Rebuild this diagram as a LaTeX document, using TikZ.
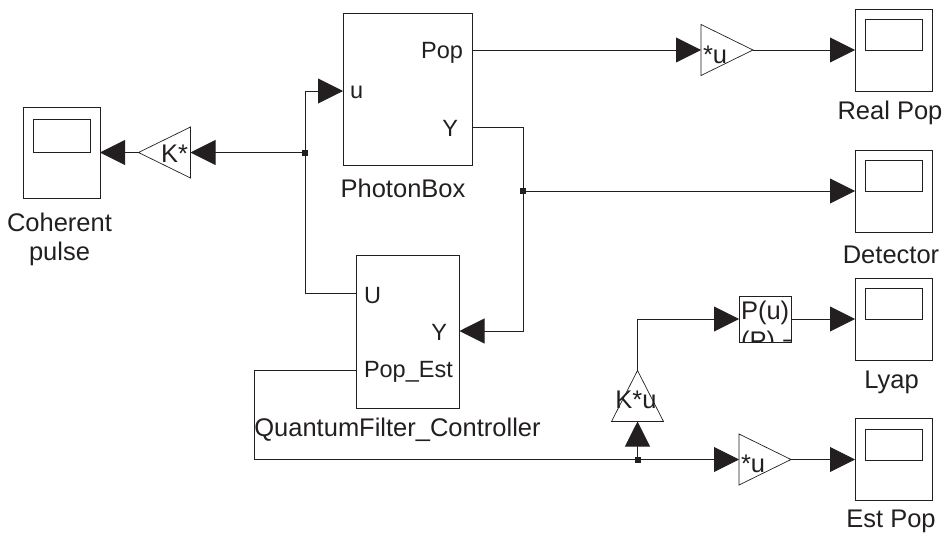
\documentclass[tikz,border=0pt]{standalone}
\usepackage{fontspec}
\setmainfont{Liberation Sans}
\usetikzlibrary{arrows.meta}
\definecolor{ink}{HTML}{231F20}
\tikzset{
  wire/.style={draw=ink,line width=0.9pt},
  sig/.style={wire,-{Triangle[length=25pt,width=25pt,color=ink]}},
  blockbox/.style={draw=ink,line width=0.9pt,inner sep=0pt,outer sep=0pt,rectangle},
  scopebox/.style={blockbox,minimum width=77pt,minimum height=82pt},
  screenbox/.style={blockbox,minimum width=57pt,minimum height=31pt},
  gainarea/.style={inner sep=0pt,outer sep=0pt,rectangle,minimum width=52pt,minimum height=51pt},
  gainshape/.style={draw=ink,line width=0.7pt,line join=miter},
  dotnode/.style={fill=ink,inner sep=0pt,outer sep=0pt,minimum size=6pt,rectangle},
  lbl/.style={inner sep=0pt,outer sep=0pt,text=ink,font=\fontsize{25.5}{30}\selectfont},
  port/.style={lbl,font=\fontsize{23.5}{28}\selectfont},
  gaintext/.style={lbl,font=\fontsize{25.5}{29}\selectfont}
}
\begin{document}
\begin{tikzpicture}[x=1pt,y=-1pt]
\useasboundingbox (0,0) rectangle (944,533);
% scopes
\node[scopebox] (sReal) at (893.5,50) {};
\node[screenbox] (sRealS) at (893.5,34.5) {};
\node[scopebox] (sDet) at (893.5,191) {};
\node[screenbox] (sDetS) at (893.5,175.5) {};
\node[scopebox] (sLyap) at (893.5,319) {};
\node[screenbox] (sLyapS) at (893.5,303.5) {};
\node[scopebox] (sEst) at (893.5,459.5) {};
\node[screenbox] (sEstS) at (893.5,444.5) {};
\node[blockbox,minimum width=77pt,minimum height=91pt] (sCoh) at (61.5,152.5) {};
\node[blockbox,minimum width=57pt,minimum height=33pt] (sCohS) at (61.5,135.5) {};
% subsystems
\node[blockbox,minimum width=129pt,minimum height=152pt] (pb) at (407.5,89) {};
\node[blockbox,minimum width=103pt,minimum height=153pt] (qf) at (407.5,331.5) {};
% gains
\node[gainarea] (gReal) at (727,50) {};
\draw[gainshape] (gReal.north west) -- (gReal.east) -- (gReal.south west) -- cycle;
\node[gainarea] (gEst) at (765,459.5) {};
\draw[gainshape] (gEst.north west) -- (gEst.east) -- (gEst.south west) -- cycle;
\node[gainarea] (gCoh) at (164.5,152.5) {};
\draw[gainshape] (gCoh.north east) -- (gCoh.west) -- (gCoh.south east) -- cycle;
\node[gainarea] (gK) at (637.5,396) {};
\draw[gainshape] (gK.south west) -- (gK.north) -- (gK.south east) -- cycle;
\node[blockbox,minimum width=52pt,minimum height=46pt] (pu) at (765,319) {};
% port coordinates
\coordinate (pbPop) at (472,50);
\coordinate (pbY) at (472,127);
\coordinate (pbU) at (343,91);
\coordinate (qfU) at (356,293);
\coordinate (qfY) at (459.5,331);
\coordinate (qfEst) at (356,370);
\coordinate (qfBend) at (254,459.5);
% junctions
\node[dotnode] (j1) at (305,152.5) {};
\node[dotnode] (j2) at (523,191) {};
\node[dotnode] (j3) at (637.5,459.5) {};
% connectors
\draw[sig] (pbPop) -- (gReal.west);
\draw[sig] (gReal.east) -- (sReal.west);
\draw[wire] (pbY) -| (j2.center);
\draw[sig] (j2.center) -- (sDet.west);
\draw[sig] (j2.center) |- (qfY);
\draw[sig] (j1.center) |- (pbU);
\draw[wire] (j1.center) |- (qfU);
\draw[sig] (j1.center) -- (gCoh.east);
\draw[sig] (gCoh.west) -- (sCoh.east);
\draw[wire] (qfEst) -| (qfBend) -- (j3.center);
\draw[sig] (j3.center) -- (gEst.west);
\draw[sig] (gEst.east) -- (sEst.west);
\draw[sig] (j3.center) -- (gK.south);
\draw[sig] (gK.north) |- (pu.west);
\draw[sig] (pu.east) -- (sLyap.west);
% block texts
\node[port,anchor=east] (tPop) at (463,53) {Pop};
\node[port,anchor=east] (tY) at (458,128) {Y};
\node[port,anchor=west] (tu) at (350,92) {u};
\node[port,anchor=west] (tU) at (364,296) {U};
\node[port,anchor=east] (tY2) at (447,332) {Y};
\node[port,anchor=west] (tEst) at (364,372) {Pop\_Est};
\node[gaintext,anchor=west] (tg1) at (703,55) {*u};
\node[gaintext,anchor=west] (tg2) at (741,464) {*u};
\node[gaintext,anchor=east] (tg3) at (188,154) {K*};
\node[gaintext] (tg4) at (636,400) {K*u};
\begin{scope}
\clip (pu.north west) rectangle (pu.south east);
\node[lbl,anchor=base west] (tp1) at (741,319) {P(u)};
\node[lbl,anchor=base west] (tp2) at (741,349) {(P) −};
\end{scope}
% names
\node[lbl] (nPB) at (403,188) {PhotonBox};
\node[lbl] (nQF) at (397.5,430) {QuantumFilter\_Controller};
\node[lbl] (nC1) at (59.5,222) {Coherent};
\node[lbl] (nC2) at (59.5,254) {pulse};
\node[lbl] (nR) at (890,113) {Real Pop};
\node[lbl] (nD) at (891,255) {Detector};
\node[lbl] (nL) at (891.5,382) {Lyap};
\node[lbl] (nE) at (891,521) {Est Pop};
\end{tikzpicture}
\end{document}
